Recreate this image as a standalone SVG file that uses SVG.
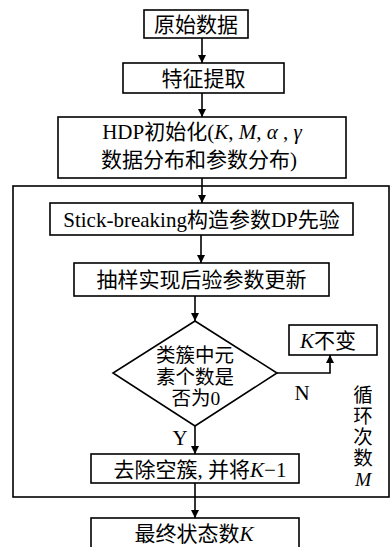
<svg xmlns="http://www.w3.org/2000/svg" width="391" height="547" viewBox="0 0 391 547">
<defs>
<style>
.b{fill:#fff;stroke:#000;stroke-width:1.6}
.l{fill:none;stroke:#000;stroke-width:1.6}
text{font-family:"Liberation Serif","Noto Sans CJK SC",serif;font-size:21px;fill:#000;text-anchor:middle}
.s{font-size:19.5px}
.i{font-style:italic}
</style>
<marker id="a" viewBox="0 0 10 10" refX="10" refY="5" markerWidth="8" markerHeight="8" markerUnits="userSpaceOnUse" orient="auto">
<path d="M0,0 L10,5 L0,10 z" fill="#000"/>
</marker>
</defs>
<rect width="391" height="547" fill="#fff"/>
<g id="loop">
<rect class="b" x="13" y="186" width="376" height="311" fill="none"/>
</g>
<g id="n1"><rect class="b" x="144" y="10" width="104" height="28"/><text x="196" y="31.5">原始数据</text></g>
<g id="n2"><rect class="b" x="123" y="63" width="161" height="30"/><text x="203.5" y="85.5">特征提取</text></g>
<g id="n3"><rect class="b" x="58" y="117" width="288" height="61"/>
<text x="202" y="138.5">HDP初始化(<tspan class="i">K</tspan>, <tspan class="i">M</tspan>, <tspan class="i">α</tspan> , <tspan class="i">γ</tspan></text>
<text x="199" y="166.5">数据分布和参数分布)</text></g>
<g id="n4"><rect class="b" x="50" y="203" width="303" height="32"/><text x="201.5" y="226.5">Stick-breaking构造参数DP先验</text></g>
<g id="n5"><rect class="b" x="74" y="263" width="255" height="33"/><text x="201.5" y="287">抽样实现后验参数更新</text></g>
<g id="n6"><polygon class="b" points="195,321 277,373 195,426 113,373"/>
<text class="s" x="195" y="362">类簇中元</text><text class="s" x="195" y="384">素个数是</text><text class="s" x="196" y="405">否为0</text></g>
<g id="n7"><rect class="b" x="289" y="325" width="88" height="30"/><text x="328" y="347.5"><tspan class="i">K</tspan>不变</text></g>
<g id="n8"><rect class="b" x="91" y="454" width="208" height="29"/><text x="200" y="476.5">去除空簇, 并将<tspan class="i">K</tspan>−1</text></g>
<g id="n9"><rect class="b" x="91" y="518" width="208" height="45"/><text x="194" y="540.5">最终状态数<tspan class="i">K</tspan></text></g>
<g id="labels">
<text class="s" x="363" y="402">循</text><text class="s" x="363" y="423">环</text><text class="s" x="363" y="444">次</text><text class="s" x="363" y="465">数</text><text class="s i" x="363" y="486">M</text>
<text x="302" y="400">N</text><text x="180" y="445">Y</text>
</g>
<g id="connectors">
<line class="l" x1="202" y1="38" x2="202" y2="63" marker-end="url(#a)"/>
<line class="l" x1="202" y1="93" x2="202" y2="117" marker-end="url(#a)"/>
<line class="l" x1="202" y1="178" x2="202" y2="203" marker-end="url(#a)"/>
<line class="l" x1="201" y1="235" x2="201" y2="263" marker-end="url(#a)"/>
<line class="l" x1="195" y1="296" x2="195" y2="321" marker-end="url(#a)"/>
<line class="l" x1="195" y1="426" x2="195" y2="454" marker-end="url(#a)"/>
<line class="l" x1="195" y1="483" x2="195" y2="518" marker-end="url(#a)"/>
<polyline class="l" points="277,373 330,373 330,355" marker-end="url(#a)"/>
</g>
</svg>
